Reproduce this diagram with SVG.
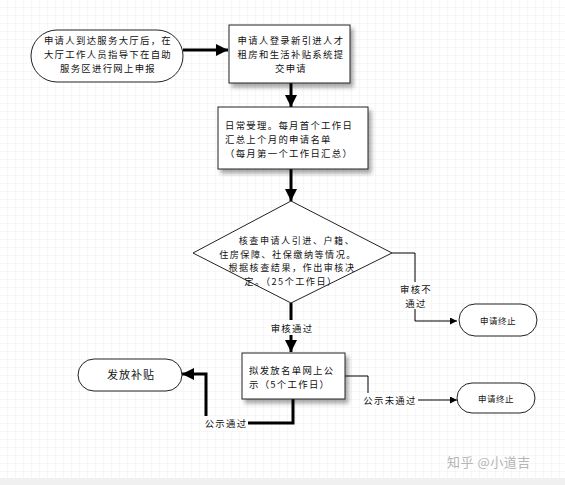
<svg xmlns="http://www.w3.org/2000/svg" width="565" height="485" viewBox="0 0 565 485">
<defs>
<pattern id="grid" width="8" height="8" patternUnits="userSpaceOnUse">
<path d="M8 0V8H0" fill="none" stroke="#eeeeee" stroke-width="1"/>
</pattern>
<marker id="ah" viewBox="0 0 10 10" refX="10" refY="5" markerWidth="4" markerHeight="4" orient="auto" markerUnits="strokeWidth">
<path d="M0 0L10 5L0 10z" fill="#000"/>
</marker>
<marker id="at" viewBox="0 0 10 10" refX="10" refY="5" markerWidth="9" markerHeight="7" orient="auto" markerUnits="strokeWidth">
<path d="M0 0L10 5L0 10z" fill="#000"/>
</marker>
<filter id="sh" x="-10%" y="-10%" width="130%" height="140%">
<feGaussianBlur in="SourceAlpha" stdDeviation="2"/>
<feOffset dx="3" dy="4"/>
<feComponentTransfer><feFuncA type="linear" slope="0.35"/></feComponentTransfer>
<feMerge><feMergeNode/><feMergeNode in="SourceGraphic"/></feMerge>
</filter>
</defs>
<style>
text{font-family:"Noto Sans CJK SC","Noto Sans CJK JP",sans-serif;font-size:9.4px;letter-spacing:1.3px;fill:#111}
.c{text-anchor:middle}
.d{font-size:9.1px;letter-spacing:1.5px}
.box{fill:#fff;stroke:#222;stroke-width:1}
.thick{fill:none;stroke:#000;stroke-width:3}
.thin{fill:none;stroke:#000;stroke-width:1}
.s{font-size:8.5px;letter-spacing:0.5px}
.wm{font-size:13px;letter-spacing:0.5px;fill:#b5b5b5}
</style>
<rect width="565" height="485" fill="#fff"/>
<rect width="565" height="478" fill="url(#grid)"/>
<rect y="478" width="565" height="7" fill="#f0f0f0"/>

<g id="connectors">
<path class="thick" d="M183 50H228" marker-end="url(#ah)"/>
<path class="thick" d="M291 83V107" marker-end="url(#ah)"/>
<path class="thick" d="M291 169V201" marker-end="url(#ah)"/>
<path class="thick" d="M291 303V352" marker-end="url(#ah)"/>
<path class="thin" d="M392 253H415V321H457" marker-end="url(#at)"/>
<path class="thin" d="M345 376H368V400H457" marker-end="url(#at)"/>
<path class="thick" d="M293 399V423H206V374H182" marker-end="url(#ah)"/>
<rect x="266" y="320" width="50" height="15" fill="#fff"/>
<text class="c" x="292" y="332">审核通过</text>
<rect x="400" y="282" width="30" height="27" fill="#fff"/>
<text class="c" x="416" y="293">审核不</text>
<text class="c" x="416" y="307">通过</text>
<rect x="360" y="393" width="58" height="15" fill="#fff"/>
<text class="c" x="390" y="404">公示未通过</text>
<rect x="202" y="416" width="46" height="15" fill="#fff"/>
<text class="c" x="226" y="427">公示通过</text>
</g>

<g id="n1">
<rect class="box" x="31" y="30" width="152" height="52" rx="26"/>
<text class="c" x="108" y="44">申请人到达服务大厅后，在</text>
<text class="c" x="108" y="58">大厅工作人员指导下在自助</text>
<text class="c" x="108" y="72">服务区进行网上申报</text>
</g>
<g id="n2">
<rect class="box" x="229" y="25" width="121" height="58" filter="url(#sh)"/>
<text class="c" x="291" y="44">申请人登录新引进人才</text>
<text class="c" x="291" y="58">租房和生活补贴系统提</text>
<text class="c" x="291" y="72">交申请</text>
</g>
<g id="n3">
<rect class="box" x="218" y="107" width="150" height="62" filter="url(#sh)"/>
<text x="225" y="129">日常受理。每月首个工作日</text>
<text x="225" y="143">汇总上个月的申请名单</text>
<text x="225" y="157">（每月第一个工作日汇总）</text>
</g>
<g id="n4">
<path class="box" d="M291 201L392 253L291 303L193 253z"/>
<text class="c d" x="297" y="244">核查申请人引进、户籍、</text>
<text class="c d" x="288" y="257.5">住房保障、社保缴纳等情况。</text>
<text class="c d" x="292" y="271">根据核查结果，作出审核决</text>
<text class="c d" x="291" y="284.5">定。（25个工作日）</text>
</g>
<g id="n5">
<rect class="box" x="459" y="304" width="78" height="32" rx="16"/>
<text class="c s" x="498" y="324">申请终止</text>
</g>
<g id="n6">
<rect class="box" x="242" y="353" width="103" height="46" filter="url(#sh)"/>
<text x="249" y="374">拟发放名单网上公</text>
<text x="249" y="388">示（5个工作日）</text>
</g>
<g id="n7">
<rect class="box" x="457" y="383" width="78" height="30" rx="15"/>
<text class="c s" x="496" y="402">申请终止</text>
</g>
<g id="n8">
<rect class="box" x="78" y="359" width="104" height="32" rx="16"/>
<text class="c" x="131" y="379" style="font-size:11px;letter-spacing:1px">发放补贴</text>
</g>
<text class="wm" x="447" y="467">知乎 @小道吉</text>
</svg>
